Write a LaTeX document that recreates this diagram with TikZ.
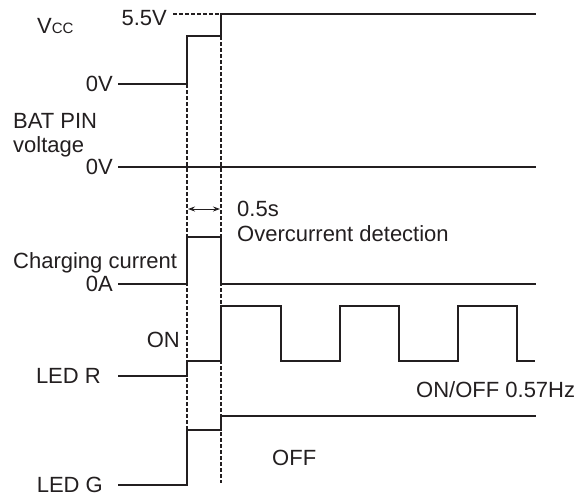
\documentclass[tikz,border=0pt]{standalone}
\usepackage{fontspec}
\setmainfont{Liberation Sans}
\usetikzlibrary{arrows.meta}
\definecolor{ink}{HTML}{231F20}
\begin{document}
\begin{tikzpicture}[x=1pt,y=-1pt,
  sig/.style={line width=2.9pt, line join=miter, draw=ink},
  guide/.style={line width=1.1pt, draw=ink, dash pattern=on 3.5pt off 2.5pt},
  dim/.style={line width=1pt, draw=ink, {Stealth[length=7pt,width=5pt]}-{Stealth[length=7pt,width=5pt]}},
  lbl/.style={font=\fontsize{22}{26}\selectfont, text=ink, inner sep=0pt}]
\useasboundingbox[fill=white] (0,0) rectangle (587,496);

% ---- labels ----
\node[lbl, anchor=base west] (vcc) at (37,33) {V{\fontsize{15}{15}\selectfont CC}};
\node[lbl, anchor=base east] (v55) at (167,25) {5.5V};
\node[lbl, anchor=east] (v0a) at (113,84) {0V};
\node[lbl, anchor=base west] (bat1) at (13,128) {BAT PIN};
\node[lbl, anchor=base west] (bat2) at (13,152) {voltage};
\node[lbl, anchor=east] (v0b) at (113,167) {0V};
\node[lbl, anchor=base west] (t05) at (237,216) {0.5s};
\node[lbl, anchor=base west] (ocd) at (237,241) {Overcurrent detection};
\node[lbl, anchor=base west] (chg) at (13,268) {Charging current};
\node[lbl, anchor=east] (a0) at (113,284) {0A};
\node[lbl, anchor=base east] (on) at (180,347) {ON};
\node[lbl, anchor=east] (ledr) at (101,376) {LED R};
\node[lbl, anchor=base west] (onoff) at (416,397) {ON/OFF 0.57Hz};
\node[lbl, anchor=base west] (off) at (272,465) {OFF};
\node[lbl, anchor=east] (ledg) at (103,485) {LED G};

% ---- timing guides ----
\coordinate (t1top) at (187,84);
\coordinate (t1bot) at (187,430);
\coordinate (t2top) at (221,36);
\coordinate (t2bot) at (221,483);
\coordinate (ref55) at (173,14);
\draw[guide] (t1top) -- (t1bot);
\draw[guide] (t2top) -- (t2bot);
\draw[guide] (ref55) -- (221,14);
\coordinate (dimL) at (188,209);
\coordinate (dimR) at (220,209);
\draw[dim] (dimL) -- (dimR);

% ---- waveforms ----
% Vcc
\draw[sig] (118,84) -- (187,84) -- (187,36) -- (221,36) -- (221,14) -- (536,14);
% BAT PIN voltage
\draw[sig] (118,167) -- (536,167);
% Charging current
\draw[sig] (118,284) -- (187,284) -- (187,237) -- (221,237) -- (221,284) -- (536,284);
% LED R
\draw[sig] (118,376) -- (187,376) -- (187,361) -- (221,361) -- (221,306)
  -- (281,306) -- (281,361) -- (340,361) -- (340,306) -- (399,306) -- (399,361)
  -- (458,361) -- (458,306) -- (517,306) -- (517,361) -- (535,361);
% LED G
\draw[sig] (118,485) -- (187,485) -- (187,430) -- (221,430) -- (221,416) -- (536,416);
\end{tikzpicture}
\end{document}
